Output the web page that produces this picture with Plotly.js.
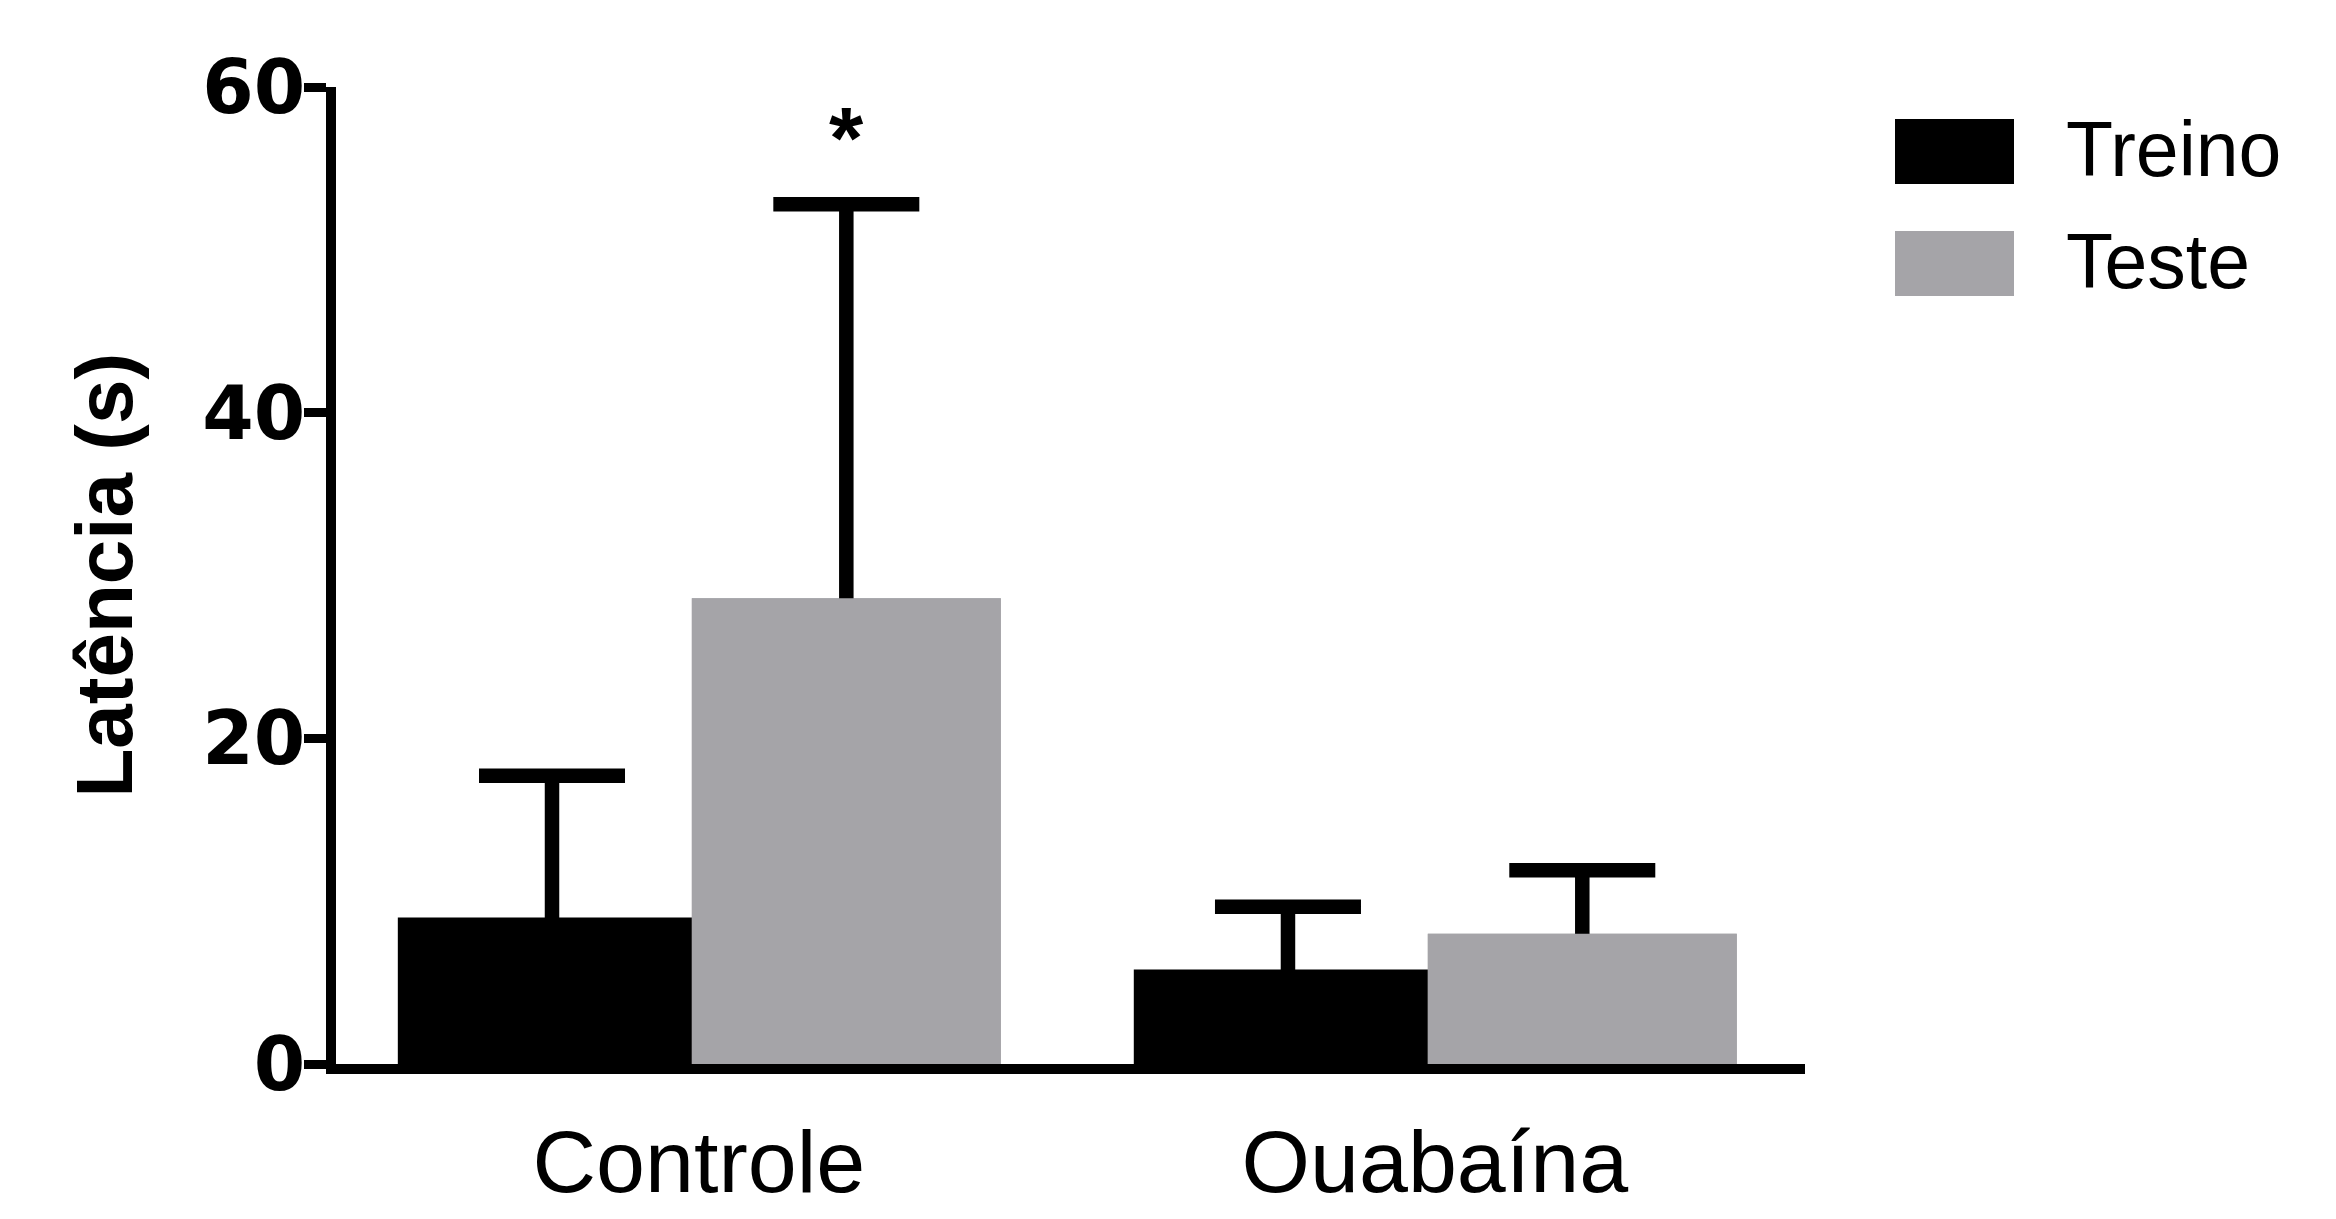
<!DOCTYPE html>
<html>
<head>
<meta charset="utf-8">
<script src="https://cdn.plot.ly/plotly-3.0.1.min.js"></script>
<style>
  html, body { margin: 0; padding: 0; background: #ffffff; }
  #chart { width: 2336px; height: 1219px; }
</style>
</head>
<body>
<div id="chart"></div>
<script>
// ---- data ----
const categories = ['Controle', 'Ouabaína'];
const seriesNames = ['Treino', 'Teste'];
const treinoMean = [9.0, 5.8];
const treinoSEM = [8.7, 3.85];
const testeMean = [28.6, 8.0];
const testeSEM = [24.2, 3.9];
const testeSignificance = ['*', ''];
const yTickValues = [0, 20, 40, 60];
const yTitle = 'Latência (s)';

// ---- layout geometry ----
const W = 2336, H = 1219;
const M = { l: 336, r: 531, t: 87, b: 155 };
const plotW = W - M.l - M.r;
const plotH = H - M.t - M.b;
const px2paperX = px => (px - M.l) / plotW;
const px2paperY = py => (H - M.b - py) / plotH;

const colors = { Treino: '#000000', Teste: '#a5a4a8' };
const errStyle = { color: '#000000', thickness: 14.5, width: 73 };

// bar geometry (category units)
const geo = {
  Treino: { offset: -0.409, width: 0.419 },
  Teste:  { offset: -0.0095, width: 0.4198 }
};

// Error bars only go upward: the lower end is sent down to the baseline
// and hidden under the bar, which is redrawn on top.
function barTrace(name, y, err, withErr) {
  const t = {
    type: 'bar',
    name: name,
    x: categories,
    y: y,
    offset: geo[name].offset,
    width: geo[name].width,
    marker: { color: colors[name], line: { width: 0 } },
    showlegend: false,
    hoverinfo: 'skip'
  };
  if (withErr) {
    t.error_y = Object.assign({
      type: 'data', array: err, arrayminus: y, symmetric: false, visible: true
    }, errStyle);
  }
  return t;
}

const traces = [
  barTrace(seriesNames[0], treinoMean, treinoSEM, true),
  barTrace(seriesNames[1], testeMean, testeSEM, true),
  barTrace(seriesNames[1], testeMean, testeSEM, false)
];

const annotations = [];

// significance marks above Teste bars
testeSignificance.forEach((mark, i) => {
  if (!mark) return;
  annotations.push({
    xref: 'x', yref: 'y',
    x: i + geo.Teste.offset + geo.Teste.width / 2,
    y: testeMean[i] + testeSEM[i],
    text: mark,
    showarrow: false,
    xanchor: 'center', yanchor: 'middle',
    yshift: 67,
    font: { family: 'Liberation Sans, Arial, sans-serif', size: 88, weight: 'bold', color: '#000' }
  });
});

// y axis title
annotations.push({
  xref: 'paper', yref: 'paper',
  x: px2paperX(104), y: 0.5,
  xanchor: 'center', yanchor: 'middle',
  textangle: -90,
  text: yTitle, showarrow: false,
  font: { family: 'Liberation Sans, Arial, sans-serif', size: 80, weight: 'bold', color: '#000' }
});

// legend drawn as swatches + text
const legendRows = [
  { name: seriesNames[0], color: colors.Treino, top: 119, bottom: 184, textY: 149 },
  { name: seriesNames[1], color: colors.Teste, top: 231, bottom: 296, textY: 261 }
];
const shapes = [];
legendRows.forEach(r => {
  shapes.push({
    type: 'rect', xref: 'paper', yref: 'paper', layer: 'above',
    x0: px2paperX(1895), x1: px2paperX(2014),
    y0: px2paperY(r.bottom), y1: px2paperY(r.top),
    fillcolor: r.color, line: { width: 0 }
  });
  annotations.push({
    xref: 'paper', yref: 'paper',
    x: px2paperX(2064), y: px2paperY(r.textY),
    xanchor: 'left', yanchor: 'middle',
    text: r.name, showarrow: false,
    font: { family: 'Liberation Sans, Arial, sans-serif', size: 77, color: '#000' }
  });
});

const layout = {
  width: W, height: H,
  margin: M,
  paper_bgcolor: '#ffffff',
  plot_bgcolor: '#ffffff',
  showlegend: false,
  barmode: 'overlay',
  xaxis: {
    type: 'category',
    range: [-0.493, 1.503],
    showline: true, linewidth: 10, linecolor: '#000',
    ticks: '', showgrid: false, zeroline: false,
    tickfont: { family: 'Liberation Sans, Arial, sans-serif', size: 88, color: '#000' },
    ticklabelstandoff: 12,
    automargin: false
  },
  yaxis: {
    range: [0, 60],
    tickmode: 'array', tickvals: yTickValues,
    ticks: 'outside', ticklen: 22, tickwidth: 9, tickcolor: '#000',
    showline: true, linewidth: 10, linecolor: '#000',
    showgrid: false, zeroline: false,
    tickfont: { family: 'DejaVu Sans, sans-serif', size: 74, weight: 'bold', color: '#000' },
    ticklabelstandoff: -16,
    automargin: false
  },
  shapes: shapes,
  annotations: annotations
};

Plotly.newPlot('chart', traces, layout, { displayModeBar: false, staticPlot: true });
</script>
</body>
</html>
